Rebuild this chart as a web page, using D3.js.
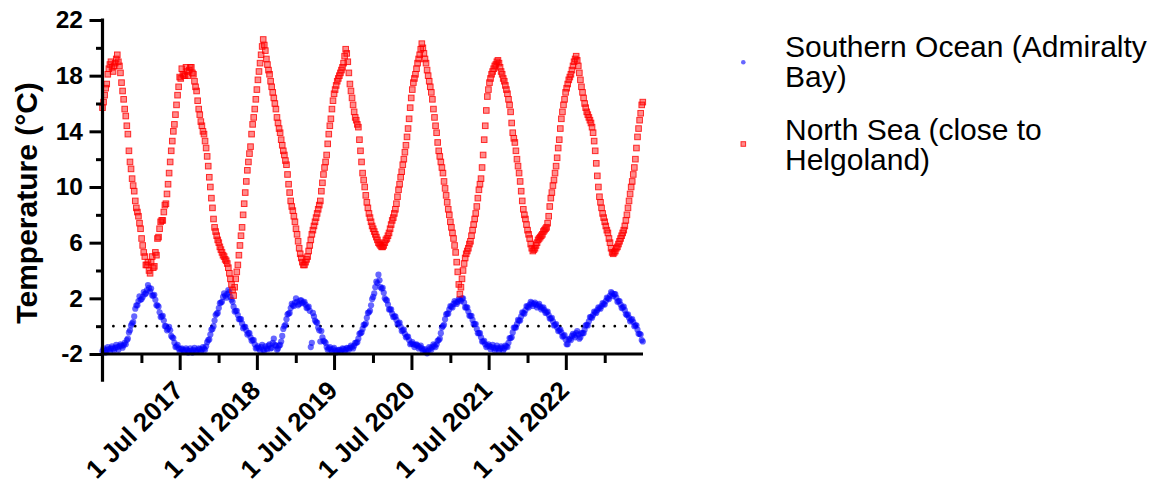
<!DOCTYPE html>
<html>
<head>
<meta charset="utf-8">
<script src="https://cdn.jsdelivr.net/npm/d3@7"></script>
<style>
  body { margin: 0; background: #fff; }
  svg { display: block; font-family: "Liberation Sans", Arial, Helvetica, sans-serif; }
</style>
</head>
<body>
<svg id="chart" width="1155" height="486"></svg>
<script>
// Both temperature records: one reading every 5 days from 1 Jul 2016
const firstDate = "2016-07-01";
const stepDays = 5;

const seriesNames = ["Southern Ocean (Admiralty Bay)", "North Sea (close to Helgoland)"];
const legendLines = [["Southern Ocean (Admiralty", "Bay)"], ["North Sea (close to", "Helgoland)"]];

// Southern Ocean (Admiralty Bay), °C
const southernOcean = [
  -1.8, -1.6, -1.75, -1.9, -1.7, -1.5, -1.65, -1.8, -1.6, -1.45, -1.62, -1.75, -1.55, -1.35, -1.5, -1.7, -1.45, -1.3, -1.4, -1.55,
  -1.38, -1.2, -1.3, -1.0, -0.9, -0.45, -0.3, 0.05, 0.2, 0.3, 0.7, 1.25, 1.5, 1.5, 1.8, 2.15, 1.9, 1.95, 2.1, 2.45,
  2.3, 2.35, 2.6, 2.95, 2.75, 2.5, 2.7, 2.2, 2.2, 2.25, 1.9, 1.5, 1.5, 1.4, 1.0, 0.65, 0.7, 0.75, 0.4, 0.0,
  0.0, -0.3, -0.2, -0.05, -0.3, -0.7, -0.8, -0.85, -1.2, -1.5, -1.45, -1.35, -1.6, -1.85, -1.65, -1.6, -1.7, -1.85, -1.75, -1.6,
  -1.7, -1.9, -1.8, -1.6, -1.75, -1.9, -1.7, -1.55, -1.78, -1.85, -1.72, -1.6, -1.65, -1.85, -1.7, -1.5, -1.6, -1.7, -1.45, -1.15,
  -1.0, -0.95, -0.6, -0.25, -0.2, 0.0, 0.4, 0.8, 0.9, 0.95, 1.3, 1.65, 1.7, 1.75, 2.1, 2.35, 2.2, 2.05, 2.3, 2.6,
  2.45, 2.1, 1.9, 1.75, 1.4, 1.05, 1.1, 1.1, 0.8, 0.5, 0.5, 0.5, 0.2, -0.15, -0.05, -0.05, -0.3, -0.6, -0.5, -0.5,
  -0.8, -1.05, -1.0, -1.0, -1.3, -1.6, -1.55, -1.45, -1.6, -1.75, -1.5, -1.35, -1.7, -1.75, -1.45, -1.6, -1.65, -1.4, -1.3, -1.6,
  -1.55, -1.2, -0.9, -1.35, -1.4, -1.7, -1.6, -1.4, -1.35, -1.1, -0.7, -0.2, 0.0, 0.1, 0.5, 0.85, 0.9, 0.95, 1.3, 1.6,
  1.5, 1.45, 1.7, 2.0, 1.75, 1.5, 1.6, 1.85, 1.85, 1.65, 1.7, 1.75, 1.55, 1.3, 1.35, 1.4, 1.1, -1.5, -1.2, 0.95,
  0.7, 0.4, 0.3, 0.25, -0.1, -0.3, -1.1, -0.35, -0.8, -1.05, -1.1, -1.2, -1.5, -1.7, -1.6, -1.5, -1.7, -1.85, -1.65, -1.55,
  -1.75, -1.9, -1.8, -1.7, -1.7, -1.85, -1.75, -1.6, -1.65, -1.85, -1.7, -1.55, -1.6, -1.7, -1.55, -1.4, -1.5, -1.6, -1.4, -1.2,
  -1.2, -1.15, -0.9, -0.55, -0.5, -0.45, -0.2, 0.1, 0.1, 0.2, 0.6, 0.95, 1.0, 1.1, 1.5, 1.95, 2.1, 2.35, 2.8, 3.2,
  3.1, 3.7, 3.3, 2.8, 2.7, 2.75, 2.4, 2.0, 1.9, 1.85, 1.55, 1.2, 1.2, 1.2, 0.9, 0.65, 0.7, 0.7, 0.45, 0.15,
  0.2, 0.25, -0.05, -0.35, -0.3, -0.25, -0.55, -0.8, -0.75, -0.75, -1.0, -1.3, -1.25, -1.15, -1.3, -1.5, -1.35, -1.3, -1.4, -1.6,
  -1.5, -1.4, -1.6, -1.8, -1.7, -1.65, -1.85, -1.95, -1.75, -1.5, -1.6, -1.7, -1.5, -1.3, -1.4, -1.5, -1.3, -1.05, -1.0, -0.9,
  -0.5, -0.1, 0.0, 0.1, 0.5, 0.85, 0.9, 0.9, 1.2, 1.45, 1.4, 1.35, 1.6, 1.8, 1.7, 1.6, 1.75, 1.95, 1.9, 1.8,
  2.0, 2.0, 1.7, 1.35, 1.35, 1.35, 1.05, 0.75, 0.75, 0.75, 0.45, 0.15, 0.15, 0.15, -0.2, -0.5, -0.5, -0.5, -0.8, -1.1,
  -1.1, -1.05, -1.3, -1.5, -1.4, -1.3, -1.45, -1.65, -1.5, -1.35, -1.55, -1.75, -1.6, -1.4, -1.58, -1.75, -1.62, -1.45, -1.55, -1.75,
  -1.6, -1.4, -1.45, -1.5, -1.2, -0.85, -0.85, -0.8, -0.45, -0.1, -0.1, -0.1, 0.15, 0.45, 0.4, 0.4, 0.7, 1.0, 0.95, 0.9,
  1.15, 1.45, 1.4, 1.35, 1.55, 1.75, 1.65, 1.45, 1.6, 1.7, 1.55, 1.35, 1.5, 1.6, 1.4, 1.2, 1.3, 1.35, 1.15, 0.95,
  1.0, 1.05, 0.8, 0.55, 0.55, 0.6, 0.35, 0.05, 0.1, 0.15, -0.1, -0.35, -0.3, -0.25, -0.45, -0.75, -0.7, -0.65, -0.95, -1.3,
  -1.3, -0.95, -0.9, -1.0, -0.7, -0.55, -0.65, -0.8, -0.5, -0.35, -0.6, -0.9, -0.8, -0.5, -0.5, -0.5, -0.25, 0.05, 0.1, 0.05,
  0.35, 0.65, 0.65, 0.6, 0.8, 1.05, 1.0, 0.95, 1.15, 1.35, 1.3, 1.25, 1.45, 1.65, 1.6, 1.55, 1.8, 2.05, 2.0, 1.95,
  2.2, 2.45, 2.35, 2.15, 2.3, 2.3, 2.05, 1.75, 1.8, 1.8, 1.55, 1.3, 1.35, 1.4, 1.15, 0.85, 0.8, 0.85, 0.6, 0.35,
  0.45, 0.5, 0.3, 0.0, 0.05, 0.05, -0.25, -0.55, -0.55, -0.6, -1.0, -1.1
];

// North Sea (close to Helgoland), °C
const northSea = [
  15.7, 16.1, 16.6, 17.1, 17.4, 18.1, 18.5, 18.8, 19.0, 18.6, 18.3, 18.7, 18.9, 19.2, 19.5, 19.0, 18.7, 18.2, 17.5, 16.9,
  16.3, 15.6, 15.1, 14.4, 13.8, 12.6, 11.8, 11.3, 10.6, 10.1, 9.7, 9.0, 8.5, 8.2, 7.9, 7.4, 7.0, 6.3, 5.8, 5.3,
  5.0, 4.4, 4.4, 4.6, 4.0, 3.8, 4.6, 5.0, 4.2, 4.3, 5.3, 5.1, 6.3, 6.4, 7.0, 7.5, 7.6, 7.6, 8.2, 8.7,
  8.8, 9.5, 10.2, 11.0, 11.8, 12.6, 13.3, 14.0, 14.5, 15.2, 15.9, 16.6, 17.2, 17.9, 17.8, 18.5, 18.1, 18.0, 18.0, 18.6,
  18.3, 18.0, 18.4, 18.6, 18.6, 18.2, 18.1, 17.6, 17.2, 16.9, 16.2, 15.6, 15.2, 14.7, 14.4, 14.0, 13.8, 13.3, 12.8, 12.2,
  11.5, 10.7, 10.0, 9.2, 8.5, 7.7, 7.1, 6.8, 6.5, 6.2, 6.0, 5.7, 5.5, 5.3, 5.1, 5.0, 4.8, 4.7, 4.5, 4.2,
  3.8, 3.4, 3.0, 2.6, 2.2, 2.8, 3.4, 3.9, 4.4, 5.1, 5.8, 6.5, 7.1, 8.0, 8.8, 9.6, 10.4, 11.2, 11.8, 12.4,
  12.9, 13.8, 14.5, 15.0, 15.6, 16.3, 17.0, 17.7, 18.3, 18.9, 19.5, 20.1, 20.6, 20.2, 19.8, 19.2, 18.8, 18.4, 18.1, 17.6,
  17.2, 16.8, 16.4, 16.0, 15.6, 15.0, 14.6, 14.2, 13.9, 13.4, 13.0, 12.6, 12.3, 11.9, 11.6, 10.9, 10.2, 9.6, 9.0, 8.6,
  8.3, 7.9, 7.5, 7.0, 6.6, 6.1, 5.6, 5.2, 4.9, 4.6, 4.4, 4.4, 4.6, 4.8, 5.0, 5.4, 5.8, 6.2, 6.6, 6.9,
  7.2, 7.5, 7.8, 8.1, 8.4, 8.7, 9.0, 9.7, 10.3, 10.9, 11.4, 11.8, 12.3, 13.1, 13.8, 14.4, 14.9, 15.6, 16.2, 16.7,
  17.0, 17.3, 17.6, 17.8, 18.0, 18.2, 18.4, 18.6, 18.9, 19.4, 19.9, 19.6, 19.0, 18.2, 17.4, 16.9, 16.4, 15.9, 15.4, 15.0,
  14.8, 14.5, 14.3, 13.4, 12.6, 11.8, 11.0, 10.5, 10.0, 9.4, 8.9, 8.5, 8.1, 7.8, 7.5, 7.2, 7.0, 6.8, 6.6, 6.4,
  6.2, 6.0, 5.9, 5.8, 5.7, 5.7, 5.8, 6.0, 6.2, 6.3, 6.5, 6.7, 7.0, 7.3, 7.6, 7.8, 8.1, 8.4, 8.8, 9.3,
  9.8, 10.2, 10.7, 11.1, 11.6, 12.0, 12.5, 13.0, 13.6, 14.2, 14.9, 15.7, 16.4, 17.0, 17.5, 17.8, 18.1, 18.5, 18.9, 19.2,
  19.5, 19.9, 20.3, 20.0, 19.6, 19.2, 18.9, 18.4, 18.0, 17.6, 17.2, 16.8, 16.3, 15.6, 15.0, 14.4, 13.9, 13.2, 12.6, 12.2,
  11.8, 11.4, 11.0, 10.4, 9.9, 9.4, 8.9, 8.4, 8.0, 7.5, 7.1, 6.7, 6.3, 5.8, 5.3, 4.6, 3.9, 3.0, 2.3, 2.8,
  3.4, 4.0, 4.5, 4.9, 5.2, 5.4, 5.6, 5.9, 6.1, 6.5, 6.9, 7.3, 7.7, 8.1, 8.6, 9.2, 9.8, 10.2, 10.6, 11.4,
  12.3, 13.4, 14.4, 15.5, 16.5, 17.0, 17.5, 17.8, 18.1, 18.3, 18.5, 18.7, 18.8, 19.0, 19.1, 18.9, 18.6, 18.3, 18.1, 17.8,
  17.6, 17.3, 17.0, 16.7, 16.3, 15.9, 15.4, 14.6, 13.9, 13.5, 13.2, 12.6, 12.0, 11.5, 11.0, 10.4, 9.7, 9.0, 8.4, 8.0,
  7.7, 7.3, 6.9, 6.6, 6.3, 5.9, 5.6, 5.4, 5.5, 5.6, 5.8, 6.0, 6.2, 6.3, 6.4, 6.5, 6.6, 6.8, 6.9, 7.0,
  7.1, 7.4, 7.9, 8.6, 9.2, 9.6, 10.1, 10.5, 11.0, 11.5, 12.1, 12.8, 13.4, 14.2, 14.9, 15.4, 15.9, 16.3, 16.8, 17.1,
  17.4, 17.7, 17.9, 18.1, 18.4, 18.7, 19.0, 19.2, 19.4, 19.1, 18.7, 18.2, 17.7, 17.2, 16.8, 16.4, 16.0, 15.7, 15.4, 15.2,
  15.0, 14.8, 14.6, 14.3, 13.9, 13.3, 12.6, 11.7, 10.8, 10.0, 9.3, 8.9, 8.5, 8.1, 7.8, 7.5, 7.2, 6.9, 6.7, 6.3,
  6.0, 5.6, 5.3, 5.2, 5.3, 5.4, 5.6, 5.7, 5.9, 6.1, 6.3, 6.5, 6.7, 6.9, 7.2, 7.6, 8.0, 8.5, 9.0, 9.5,
  10.0, 10.4, 10.9, 11.4, 12.0, 12.8, 13.6, 14.2, 14.8, 15.3, 15.9, 16.1
];

// Axis ticks
const yTicksMajor = [-2, 2, 6, 10, 14, 18, 22];
const yTicksMinor = [0, 4, 8, 12, 16, 20];
const xTickMajorDates = ["2017-07-01", "2018-07-01", "2019-07-01", "2020-07-01", "2021-07-01", "2022-07-01"];
const xTickMinorDates = ["2017-01-01", "2018-01-01", "2019-01-01", "2020-01-01", "2021-01-01", "2022-01-01", "2023-01-01"];
const xTickLabels = ["1 Jul 2017", "1 Jul 2018", "1 Jul 2019", "1 Jul 2020", "1 Jul 2021", "1 Jul 2022"];
const xDomain = ["2016-07-01", "2023-07-01"];
const yDomain = [-2, 22];
const yAxisBottom = -4;
const yTitle = "Temperature (°C)";

const parse = d3.utcParse("%Y-%m-%d");
const start = parse(firstDate);
const toRows = vals => vals.map((v, i) => ({ date: d3.utcDay.offset(start, i * stepDays), value: v }));
const soRows = toRows(southernOcean);
const nsRows = toRows(northSea);

const svg = d3.select("#chart");
const x = d3.scaleUtc().domain(xDomain.map(parse)).range([102.5, 643]);
const y = d3.scaleLinear().domain(yDomain).range([354, 20]);
const axisY0 = y(yDomain[0]);
const axisX0 = x.range()[0];

const ink = "#000";
const blueFill = "rgba(0,0,255,0.6)";
const redFill = "rgba(255,0,0,0.45)";
const redEdge = "rgba(255,0,0,0.8)";

// Zero reference line (dotted)
svg.append("line")
  .attr("x1", axisX0 + 10.9).attr("x2", x.range()[1])
  .attr("y1", y(0)).attr("y2", y(0))
  .attr("stroke", ink).attr("stroke-width", 2.8)
  .attr("stroke-linecap", "round")
  .attr("stroke-dasharray", "0 10.9");

// Southern Ocean points
svg.append("g").selectAll("circle").data(soRows).join("circle")
  .attr("cx", d => x(d.date)).attr("cy", d => y(d.value))
  .attr("r", 3.1)
  .attr("fill", blueFill);

// North Sea points
const sq = 5.6;
svg.append("g").selectAll("rect").data(nsRows).join("rect")
  .attr("x", d => x(d.date) - sq / 2).attr("y", d => y(d.value) - sq / 2)
  .attr("width", sq).attr("height", sq)
  .attr("fill", redFill)
  .attr("stroke", redEdge).attr("stroke-width", 1);

// Y axis
const yAxisG = svg.append("g").attr("transform", `translate(${axisX0},0)`);
yAxisG.call(d3.axisLeft(y).tickValues(yTicksMajor).tickSize(13).tickPadding(6.5).tickFormat(d => String(d)));
yAxisG.append("g").call(d3.axisLeft(y).tickValues(yTicksMinor).tickSize(6.5).tickFormat(""));
yAxisG.selectAll(".domain").remove();
yAxisG.append("line")
  .attr("x1", 0).attr("x2", 0)
  .attr("y1", y(yDomain[1]) - 1.5).attr("y2", y(yAxisBottom))
  .attr("stroke", ink).attr("stroke-width", 3.2);
yAxisG.selectAll(".tick line").attr("stroke", ink).attr("stroke-width", 3);
yAxisG.selectAll(".tick text")
  .attr("fill", ink).style("font-size", "24.5px").style("font-weight", "bold")
  .style("font-family", '"Liberation Sans", Arial, sans-serif');

// X axis
const xAxisG = svg.append("g").attr("transform", `translate(0,${axisY0})`);
xAxisG.call(d3.axisBottom(x).tickValues(xTickMajorDates.map(parse)).tickSize(16).tickFormat(""));
xAxisG.append("g").call(d3.axisBottom(x).tickValues(xTickMinorDates.map(parse)).tickSize(9).tickFormat(""));
xAxisG.selectAll(".domain").remove();
xAxisG.append("line")
  .attr("x1", axisX0 - 1.6).attr("x2", x.range()[1])
  .attr("y1", 0).attr("y2", 0)
  .attr("stroke", ink).attr("stroke-width", 3.2);
xAxisG.selectAll(".tick line").attr("stroke", ink).attr("stroke-width", 3);

// Rotated date labels
xAxisG.append("g").selectAll("text").data(xTickMajorDates).join("text")
  .attr("transform", d => `translate(${x(parse(d)) + 5},${38}) rotate(-45)`)
  .attr("text-anchor", "end")
  .attr("fill", ink)
  .style("font-size", "26px").style("font-weight", "bold")
  .text((d, i) => xTickLabels[i]);

// Y axis title
svg.append("text")
  .attr("transform", `translate(37,${(y(yDomain[1]) + y(yAxisBottom)) / 2 + 2}) rotate(-90)`)
  .attr("text-anchor", "middle")
  .attr("fill", ink)
  .style("font-size", "30px").style("font-weight", "bold")
  .text(yTitle);

// Legend
const legend = svg.append("g");
const entryBaseline = [56.7, 140];
const markerY = [62.3, 144];
legendLines.forEach((lines, i) => {
  const g = legend.append("g");
  if (i === 0) {
    g.append("circle").attr("cx", 743.3).attr("cy", markerY[i]).attr("r", 2.3)
      .attr("fill", blueFill);
  } else {
    g.append("rect").attr("x", 743.3 - 2.3).attr("y", markerY[i] - 2.3)
      .attr("width", 4.6).attr("height", 4.6)
      .attr("fill", redFill).attr("stroke", redEdge).attr("stroke-width", 1);
  }
  lines.forEach((t, j) => {
    g.append("text")
      .attr("x", 785).attr("y", entryBaseline[i] + j * 30)
      .attr("fill", ink)
      .style("font-size", "30px")
      .text(t);
  });
});
</script>
</body>
</html>
